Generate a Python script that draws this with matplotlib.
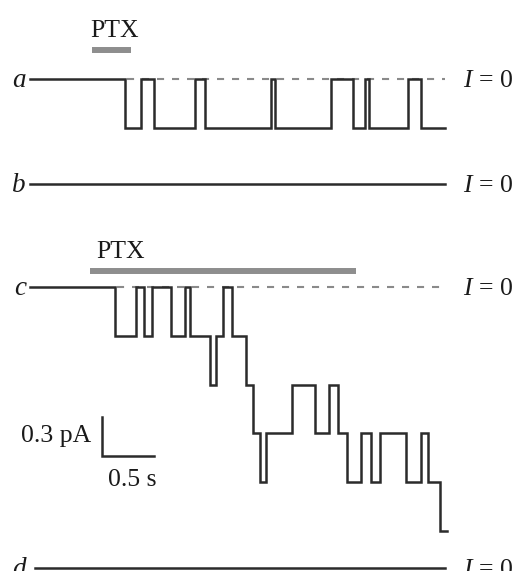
import numpy as np
import matplotlib
matplotlib.use("Agg")
import matplotlib.pyplot as plt

plt.rcParams['font.family'] = ['Liberation Serif', 'DejaVu Serif']
plt.rcParams['mathtext.fontset'] = 'custom'
plt.rcParams['mathtext.it'] = 'Liberation Serif:italic'
plt.rcParams['mathtext.rm'] = 'Liberation Serif'

# Single channel current steps (pA), time in seconds from the start of the trace.
unit_current = 0.375

# trace a: short PTX application
a_switch_t = [0.913, 1.067, 1.192, 1.587, 1.683, 2.317, 2.356, 2.894,
              3.106, 3.221, 3.260, 3.635, 3.760]
a_states = [1, 0, 1, 0, 1, 0, 1, 0, 1, 0, 1, 0, 1]
a_end = 3.99

# trace c: long PTX application, several channels open
c_switch_t = [0.817, 1.019, 1.096, 1.173, 1.356, 1.490, 1.538, 1.731,
              1.788, 1.856, 1.942, 2.077, 2.144, 2.212, 2.269, 2.519,
              2.740, 2.875, 2.962, 3.048, 3.183, 3.279, 3.365, 3.615,
              3.760, 3.827, 3.942]
c_states = [1, 0, 1, 0, 1, 0, 1, 2, 1, 0, 1, 2, 3, 4, 3, 2,
            3, 2, 3, 4, 3, 4, 3, 4, 3, 4, 5]
c_end = 4.01

# traces b and d: no response
b_end = 3.99
d_start = 0.05
d_end = 3.99

ptx_a = (0.596, 0.971)
ptx_c = (0.577, 3.135)

scale_t = 0.5
scale_i = 0.3

trace_labels = ['a', 'b', 'c', 'd']
zero_label = r'$I$ = 0'

# layout (vertical offsets of the traces in pA)
offsets = {'a': 0.0, 'b': -0.808, 'c': -1.600, 'd': -3.762}
trace_color = '#2b2b2b'
ptx_color = '#8e8e8e'
dash_color = '#8a8a8a'
fs = 18.5


def draw_trace(ax, switch_t, states, t_end, offset, t_start=0.0):
    t = np.concatenate([[t_start], switch_t, [t_end]])
    s = np.concatenate([[0], states, [states[-1]]])
    ax.step(t, offset - s * unit_current, where='post', color=trace_color,
            lw=1.8, solid_joinstyle='miter')


fig = plt.figure(figsize=(5.2, 5.71), dpi=100)
ax = fig.add_axes([0, 0, 1, 1])
ax.set_xlim(-30 / 104, 490 / 104)
ax.set_ylim(-492 / 130, 79 / 130)
ax.axis('off')

# dashed zero-current lines
for key, t0, t1 in [('a', a_switch_t[0], a_end), ('c', c_switch_t[0], c_end)]:
    ax.plot([t0 + 0.02, t1], [offsets[key], offsets[key]], color=dash_color,
            lw=1.5, dashes=(3.4, 3.8))

draw_trace(ax, a_switch_t, a_states, a_end, offsets['a'])
draw_trace(ax, c_switch_t, c_states, c_end, offsets['c'])
ax.plot([0, b_end], [offsets['b']] * 2, color=trace_color, lw=1.8)
ax.plot([d_start, d_end], [offsets['d']] * 2, color=trace_color, lw=1.8)

# PTX bars
ax.plot(ptx_a, [offsets['a'] + 0.223] * 2, color=ptx_color, lw=4.3,
        solid_capstyle='butt')
ax.plot(ptx_c, [offsets['c'] + 0.123] * 2, color=ptx_color, lw=4.3,
        solid_capstyle='butt')
ax.text(0.817, offsets['a'] + 0.323, 'PTX', fontsize=fs, ha='center',
        va='baseline', color='#1a1a1a')
ax.text(0.875, offsets['c'] + 0.223, 'PTX', fontsize=fs, ha='center',
        va='baseline', color='#1a1a1a')

# trace labels
for lab in trace_labels:
    y = offsets[lab] - 0.058
    ax.text(-0.04, y, lab, fontsize=fs + 1, style='italic', ha='right',
            va='baseline', color='#1a1a1a')
    ax.text(4.163, y, zero_label, fontsize=fs, ha='left', va='baseline',
            color='#1a1a1a')

# scale bar
x0, y0 = 0.692, -2.900
ax.plot([x0, x0, x0 + scale_t], [y0 + scale_i, y0, y0], color=trace_color,
        lw=1.8, solid_joinstyle='miter')
ax.text(x0 - 0.1, -2.792, '0.3 pA', fontsize=fs, ha='right', va='baseline',
        color='#1a1a1a')
ax.text(x0 + 0.295, -3.131, '0.5 s', fontsize=fs, ha='center',
        va='baseline', color='#1a1a1a')

fig.savefig('out.png', dpi=100)
